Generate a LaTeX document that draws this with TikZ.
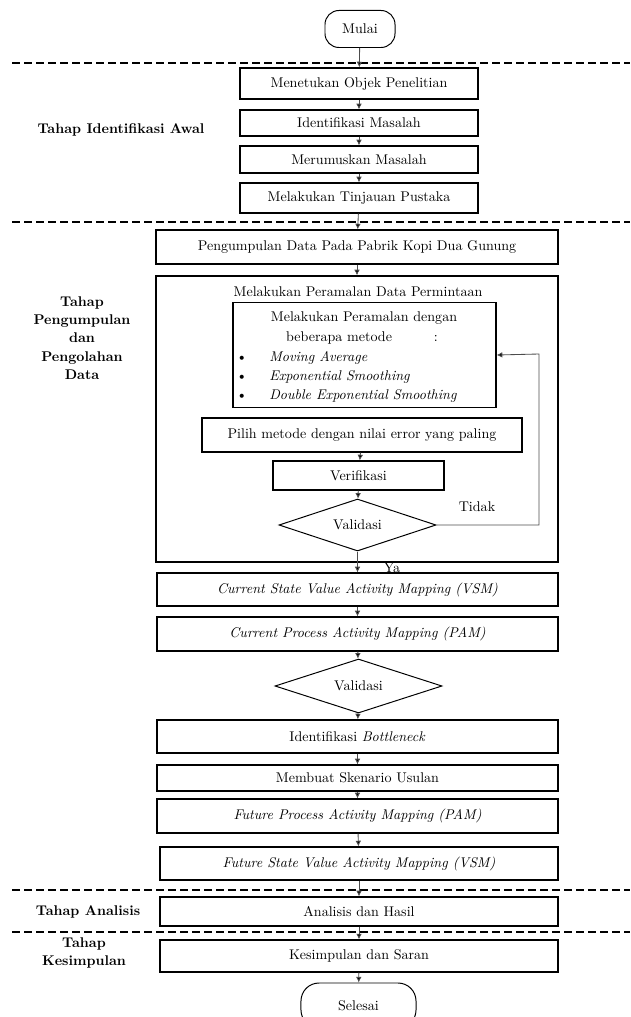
\documentclass[tikz,border=0pt]{standalone}
\usetikzlibrary{shapes.geometric,arrows.meta}

\begin{document}
\begin{tikzpicture}[x=0.025cm, y=-0.025cm,
    kotak/.style={draw, line width=0.9pt, inner sep=2pt},
    terminal/.style={draw, line width=0.7pt, rounded corners=0.35cm},
    keputusan/.style={draw, diamond, aspect=3, inner sep=0pt, line width=0.7pt},
    tahap/.style={font=\bfseries, align=center},
    pfeil/.style={draw=black!70, line width=0.6pt, -{Latex[length=4pt,width=4pt,fill=black]}},
    trenner/.style={line width=0.9pt, dash pattern=on 0.2cm off 0.1cm}]
\useasboundingbox (0,0) rectangle (630,1017);

    % Garis pemisah tahap:
    \draw[trenner] (12,63) -- (630,63);
    \draw[trenner] (12,222) -- (630,222);
    \draw[trenner] (12,890) -- (630,890);
    \draw[trenner] (12,932) -- (630,932);

    % Label tahap:
    \node[tahap] (t1) at (121,130) {Tahap Identifikasi Awal};
    \node[tahap, text depth=0pt] (t2) at (82,338) {Tahap\\[1pt]Pengumpulan\\[1pt]dan\\[1pt]Pengolahan\\[1pt]Data};
    \node[tahap] (t3) at (88,912) {Tahap Analisis};
    \node[tahap] (t4) at (84,953) {Tahap\\[1pt]Kesimpulan};

    % Tahap identifikasi awal:
    \node[terminal, minimum width=1.75cm, minimum height=0.925cm] (mulai) at (360,29) {Mulai};
    \node[kotak, minimum width=5.95cm, minimum height=0.775cm] (objek) at (359,83.5) {Menetukan Objek Penelitian};
    \node[kotak, minimum width=5.95cm, minimum height=0.65cm] (identifikasi) at (359,123) {Identifikasi Masalah};
    \node[kotak, minimum width=5.95cm, minimum height=0.675cm] (rumusan) at (359,159.5) {Merumuskan Masalah};
    \node[kotak, minimum width=5.95cm, minimum height=0.75cm] (pustaka) at (359,198) {Melakukan Tinjauan Pustaka};

    % Tahap pengumpulan dan pengolahan data:
    \node[kotak, minimum width=10.05cm, minimum height=0.85cm] (pengumpulan) at (357,247) {Pengumpulan Data Pada Pabrik Kopi Dua Gunung};
    \node[kotak, minimum width=10.05cm, minimum height=7.15cm] (ramal) at (357,419) {};
    \node (judulramal) at (358,292) {Melakukan Peramalan Data Permintaan};
    \node[kotak, minimum width=6.575cm, minimum height=2.625cm] (metode) at (364.5,355) {};
    \node (judul1) at (364,318) {Melakukan Peramalan dengan};
    \node (judul2) at (362,338) {beberapa metode\hspace{1.05cm}:};
    \node[anchor=west, inner sep=0pt] (ma) at (236,358) {\makebox[0.825cm][l]{\textbullet}\textit{Moving Average}};
    \node[anchor=west, inner sep=0pt] (es) at (236,377) {\makebox[0.825cm][l]{\textbullet}\textit{Exponential Smoothing}};
    \node[anchor=west, inner sep=0pt] (des) at (236,396) {\makebox[0.825cm][l]{\textbullet}\textit{Double Exponential Smoothing}};
    \node[kotak, minimum width=8cm, minimum height=0.85cm] (pilih) at (362,435) {Pilih metode dengan nilai error yang paling};
    \node[kotak, minimum width=4.275cm, minimum height=0.725cm] (verifikasi) at (358.5,475.5) {Verifikasi};
    \node[keputusan, minimum width=3.925cm, minimum height=1.3cm] (val1) at (357.5,525) {Validasi};
    \node (tidak) at (477,507) {Tidak};
    \node (ya) at (392,568) {Ya};
    \coordinate (balik) at (539,354);

    \node[kotak, minimum width=10.025cm, minimum height=0.825cm] (curvsm) at (357.5,589.5) {\textit{Current State Value Activity Mapping (VSM)}};
    \node[kotak, minimum width=10.025cm, minimum height=0.85cm] (curpam) at (357.5,634) {\textit{Current Process Activity Mapping (PAM)}};
    \node[keputusan, minimum width=4.175cm, minimum height=1.35cm] (val2) at (358.5,686) {Validasi};
    \node[kotak, minimum width=10.025cm, minimum height=0.825cm] (bottleneck) at (357.5,736.5) {Identifikasi \textit{Bottleneck}};
    \node[kotak, minimum width=10.025cm, minimum height=0.65cm] (skenario) at (357.5,778) {Membuat Skenario Usulan};
    \node[kotak, minimum width=10.025cm, minimum height=0.85cm] (futpam) at (357.5,816) {\textit{Future Process Activity Mapping (PAM)}};
    \node[kotak, minimum width=9.95cm, minimum height=0.825cm] (futvsm) at (359,863.5) {\textit{Future State Value Activity Mapping (VSM)}};

    % Tahap analisis dan kesimpulan:
    \node[kotak, minimum width=9.95cm, minimum height=0.725cm] (analisis) at (359,911.5) {Analisis dan Hasil};
    \node[kotak, minimum width=9.95cm, minimum height=0.8cm] (kesimpulan) at (359,956) {Kesimpulan dan Saran};
    \node[terminal, minimum width=2.875cm, minimum height=1.125cm, rounded corners=0.45cm] (selesai) at (358.5,1005.5) {Selesai};

    % Panah:
    \draw[pfeil] (mulai) -- (objek);
    \draw[pfeil] (objek) -- (identifikasi);
    \draw[pfeil] (identifikasi) -- (rumusan);
    \draw[pfeil] (rumusan) -- (pustaka);
    \draw[pfeil] (pustaka) -- (pengumpulan);
    \draw[pfeil] (pengumpulan) -- (ramal);
    \draw[pfeil] (pilih) -- (verifikasi);
    \draw[pfeil] (verifikasi) -- (val1);
    \draw[pfeil] (val1.east) -| (balik) -- (metode.east); % tidak
    \draw[pfeil] (val1) -- (curvsm); % ya
    \draw[pfeil] (curvsm) -- (curpam);
    \draw[pfeil] (curpam) -- (val2);
    \draw[pfeil] (val2) -- (bottleneck);
    \draw[pfeil] (bottleneck) -- (skenario);
    \draw[pfeil] (skenario) -- (futpam);
    \draw[pfeil] (futpam) -- (futvsm);
    \draw[pfeil] (futvsm) -- (analisis);
    \draw[pfeil] (analisis) -- (kesimpulan);
    \draw[pfeil] (kesimpulan) -- (selesai);
\end{tikzpicture}
\end{document}
